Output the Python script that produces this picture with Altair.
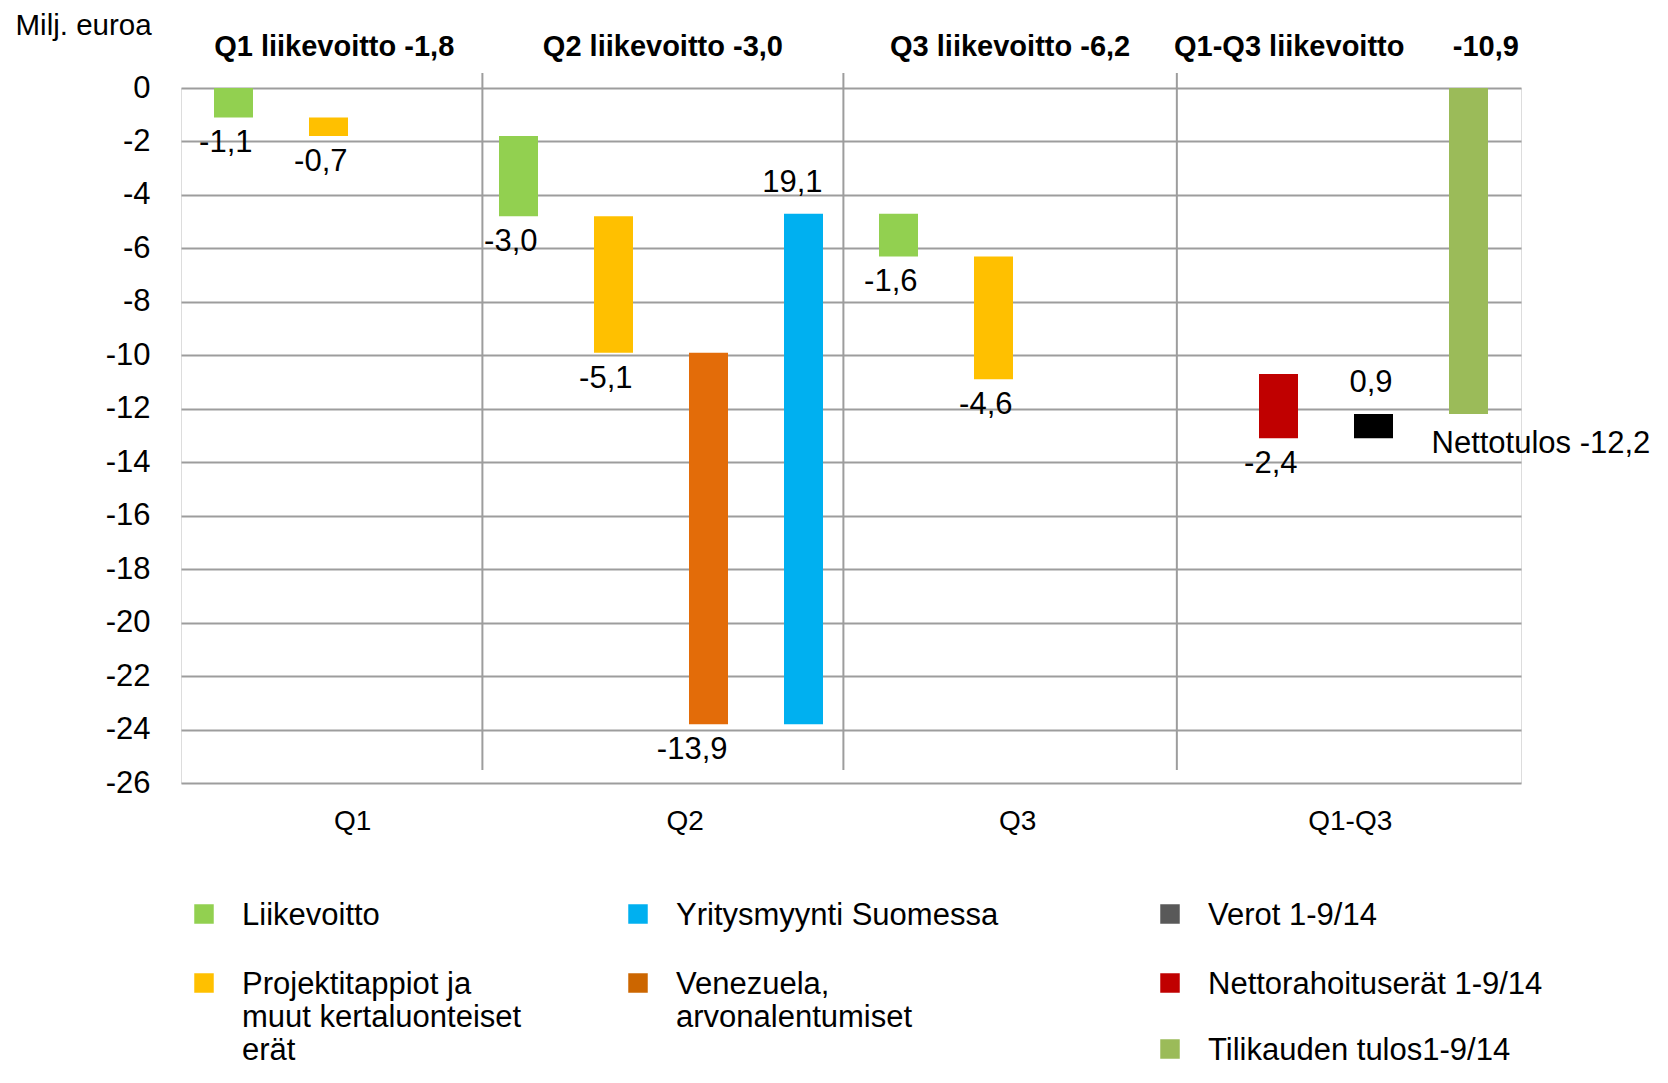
import json
import altair as alt
import pandas as pd

FONT = "Liberation Sans"

# ---------------- data ----------------
categories = ["Q1", "Q2", "Q3", "Q1-Q3"]
n_slots = 14
section_bounds = [0, 3.12, 6.92, 10.43, 14]
section_titles = [
    "Q1 liikevoitto -1,8",
    "Q2 liikevoitto -3,0",
    "Q3 liikevoitto -6,2",
    "Q1-Q3 liikevoitto" + "\u00a0" * 6 + "-10,9",
]

series_names = ["Liikevoitto", "Projektitappiot", "Venezuela", "Yritysmyynti",
                "Verot", "Nettorahoitus", "Tilikauden tulos"]
series_colors = ["#92D050", "#FFC000", "#E36C09", "#00B0F0",
                 "#000000", "#C00000", "#9BBB59"]

slots = [0, 1, 3, 4, 5, 6, 7, 8, 11, 12, 13]
series = ["Liikevoitto", "Projektitappiot",
          "Liikevoitto", "Projektitappiot", "Venezuela", "Yritysmyynti",
          "Liikevoitto", "Projektitappiot",
          "Nettorahoitus", "Verot", "Tilikauden tulos"]
starts = [0, -1.1, -1.8, -4.8, -9.9, -23.8, -4.7, -6.3, -10.7, -13.1, 0]
ends = [-1.1, -1.8, -4.8, -9.9, -23.8, -4.7, -6.3, -10.9, -13.1, -12.2, -12.2]
labels = ["-1,1", "-0,7", "-3,0", "-5,1", "-13,9", "19,1", "-1,6", "-4,6",
          "-2,4", "0,9", "Nettotulos -12,2"]

y_ticks = list(range(-26, 1, 2))

legend_labels = ["Liikevoitto", "Yritysmyynti Suomessa", "Verot 1-9/14",
                 "Projektitappiot ja\nmuut kertaluonteiset\nerät",
                 "Venezuela,\narvonalentumiset",
                 "Nettorahoituserät 1-9/14", "Tilikauden tulos1-9/14"]
legend_colors = ["#92D050", "#00B0F0", "#595959", "#FFC000", "#CC6600",
                 "#C00000", "#9BBB59"]
legend_col = [0, 1, 2, 0, 1, 2, 2]
legend_row = [0, 0, 0, 1, 1, 1, 2]

# ---------------- tables ----------------
bars_df = pd.DataFrame({"slot": slots, "series": series, "start": starts,
                        "end": ends, "label": labels})
div_df = pd.DataFrame({"b": section_bounds[1:-1]})
title_df = pd.DataFrame({
    "tx": [(section_bounds[i] + section_bounds[i + 1]) / 2 for i in range(len(section_titles))],
    "title": section_titles,
})
legend_df = pd.DataFrame({"label": legend_labels, "color": legend_colors,
                          "col": legend_col, "row": legend_row})

cat_centers = [n_slots / len(categories) * (i + 0.5) for i in range(len(categories))]
band = n_slots / len(categories)

xs = alt.Scale(domain=[0, n_slots], nice=False, zero=False)
xa = alt.Axis(values=cat_centers,
              labelExpr=f"{json.dumps(categories)}[floor(datum.value / {band})]",
              grid=False, domain=False, ticks=False, tickSize=0,
              labelFontSize=28, labelColor="#000000", labelPadding=24,
              labelOverlap=False, labelFlush=False, title=None)
ys = alt.Scale(domain=[-26, 0], nice=False, zero=False)
ya = alt.Axis(values=y_ticks, labelExpr="'' + datum.value",
              grid=True, gridColor="#9d9d9d", gridWidth=2,
              domain=False, ticks=False, tickSize=0,
              labelFontSize=31, labelColor="#000000", labelPadding=31,
              title="Milj. euroa", titleAngle=0, titleAlign="left",
              titleBaseline="middle", titleX=-166, titleY=-63,
              titleFontSize=29.5, titleFontWeight="normal", titleColor="#000000")

GRAY = "#9d9d9d"

dividers = alt.Chart(div_df).mark_rule(color=GRAY, strokeWidth=2).encode(
    x=alt.X("b:Q", scale=xs, axis=xa),
    y=alt.value(-15), y2=alt.value(682),
)

base = alt.Chart(bars_df).transform_calculate(pos="datum.slot + 0.5")

bars = base.mark_bar(size=39).encode(
    x=alt.X("pos:Q", scale=xs, axis=xa),
    y=alt.Y("start:Q", scale=ys, axis=ya),
    y2="end:Q",
    color=alt.Color("series:N", scale=alt.Scale(domain=series_names, range=series_colors),
                    legend=None),
)

lab_down = base.transform_filter(
    "datum.end < datum.start && datum.series != 'Tilikauden tulos'"
).mark_text(align="right", baseline="middle", dx=19, dy=26, fontSize=31,
            color="#000000").encode(
    x=alt.X("pos:Q", scale=xs, axis=xa),
    y=alt.Y("end:Q", scale=ys, axis=ya),
    text="label:N",
)

lab_up = base.transform_filter("datum.end > datum.start").mark_text(
    align="right", baseline="middle", dx=19, dy=-31, fontSize=31, color="#000000"
).encode(
    x=alt.X("pos:Q", scale=xs, axis=xa),
    y=alt.Y("end:Q", scale=ys, axis=ya),
    text="label:N",
)

lab_total = base.transform_filter("datum.series == 'Tilikauden tulos'").mark_text(
    align="left", baseline="middle", dx=-37, dy=30, fontSize=31, color="#000000"
).encode(
    x=alt.X("pos:Q", scale=xs, axis=xa),
    y=alt.Y("end:Q", scale=ys, axis=ya),
    text="label:N",
)

titles = alt.Chart(title_df).mark_text(
    align="center", baseline="middle", fontSize=29, fontWeight="bold", color="#000000"
).encode(
    x=alt.X("tx:Q", scale=xs, axis=xa),
    y=alt.value(-41),
    text="title:N",
)

main = alt.layer(dividers, bars, lab_down, lab_up, lab_total, titles)

lx = alt.X("col:Q", scale=alt.Scale(domain=[0, 1, 2], range=[23, 457, 989],
                                    nice=False, zero=False), axis=None)
ly = alt.Y("row:Q", scale=alt.Scale(domain=[0, 1, 2], range=[826, 895, 961],
                                    nice=False, zero=False), axis=None)

swatches = alt.Chart(legend_df).mark_square(size=380, opacity=1, filled=True).encode(
    x=lx, y=ly, color=alt.Color("color:N", scale=None),
)
legend_text = alt.Chart(legend_df).mark_text(
    align="left", baseline="top", dx=38, dy=-13, fontSize=31,
    lineBreak="\n", lineHeight=33, color="#000000"
).encode(x=lx, y=ly, text="label:N")

legend = alt.layer(swatches, legend_text)

chart = alt.layer(main, legend).resolve_scale(
    x="independent", y="independent", color="independent"
).properties(
    width=1340, height=695,
    autosize=alt.AutoSizeParams(type="none"),
    padding={"left": 173, "top": 80, "right": 139, "bottom": 287},
).configure_view(stroke=None).configure(font=FONT)

chart.save("out.html", embed_options={"renderer": "svg", "actions": False})
